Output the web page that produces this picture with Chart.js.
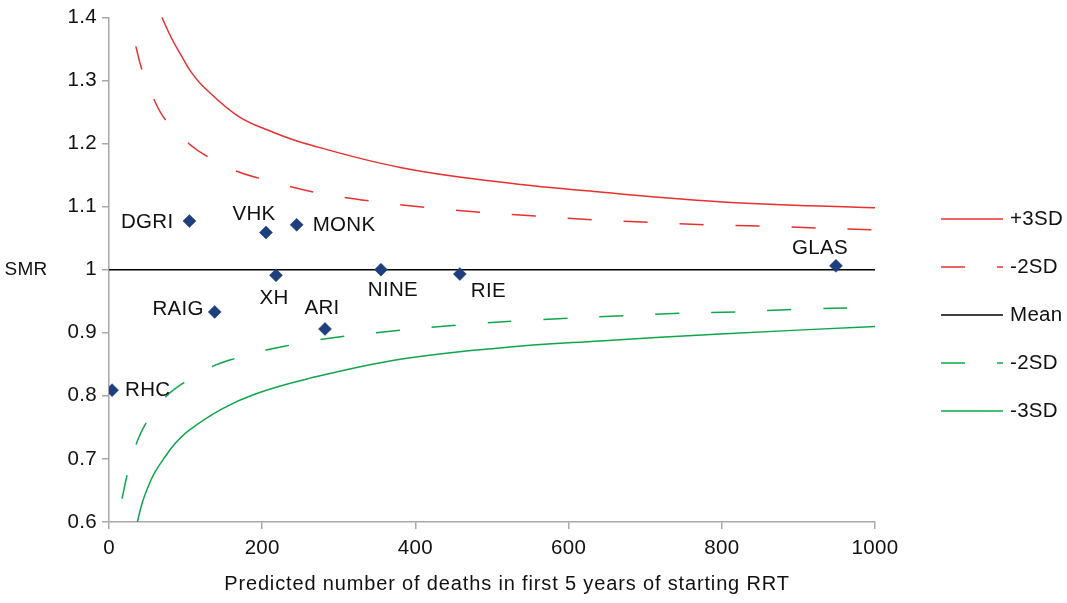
<!DOCTYPE html>
<html>
<head>
<meta charset="utf-8">
<script src="https://cdn.jsdelivr.net/npm/chart.js@4.4.1/dist/chart.umd.min.js"></script>
<style>
  html, body { margin: 0; padding: 0; background: #fff; }
  #smr-chart { display: block; }
</style>
</head>
<body>
<canvas id="smr-chart" width="1067" height="603"></canvas>
<script>
const xTicks = [0, 200, 400, 600, 800, 1000];
const yTicks = [0.6, 0.7, 0.8, 0.9, 1, 1.1, 1.2, 1.3, 1.4];

const centres = ["RHC", "DGRI", "RAIG", "VHK", "XH", "MONK", "ARI", "NINE", "RIE", "GLAS"];
const predictedDeaths = [4, 105, 138, 205, 218, 245, 282, 355, 458, 949];
const smrValues = [0.809, 1.077, 0.933, 1.059, 0.991, 1.071, 0.906, 1.0, 0.993, 1.006];

// control limits as [predicted deaths, SMR]
const upper3sd = [[69, 1.4], [82, 1.366], [95, 1.338], [108, 1.312], [125, 1.288], [169, 1.243],
  [212, 1.219], [256, 1.2], [380, 1.162], [510, 1.139], [641, 1.123], [806, 1.107], [1000, 1.098]];
const upper2sd = [[35, 1.354], [43, 1.317], [59, 1.269], [74, 1.237], [104, 1.2], [129, 1.179],
  [167, 1.156], [196, 1.145], [236, 1.132], [267, 1.123], [339, 1.109], [412, 1.099], [484, 1.091],
  [557, 1.085], [630, 1.079], [704, 1.075], [777, 1.071], [850, 1.069], [1000, 1.063]];
const meanLine = [[0, 1], [1000, 1]];
const lower2sd = [[17, 0.637], [24, 0.676], [35, 0.722], [49, 0.758], [73, 0.797], [98, 0.821],
  [134, 0.846], [164, 0.859], [204, 0.872], [235, 0.88], [275, 0.889], [349, 0.9], [453, 0.912],
  [567, 0.921], [671, 0.927], [744, 0.931], [818, 0.933], [891, 0.937], [1000, 0.94]];
const lower3sd = [[37, 0.6], [43, 0.629], [51, 0.656], [60, 0.679], [73, 0.703], [86, 0.724],
  [104, 0.745], [147, 0.779], [191, 0.803], [256, 0.826], [380, 0.858], [510, 0.876], [641, 0.887],
  [798, 0.898], [1000, 0.91]];

const seriesNames = ["+3SD", "-2SD", "Mean", "-2SD", "-3SD"];

// where each centre's name sits next to its marker: [align, dx, dy]
const labelPlacement = {
  RHC: ["left", 13, 0],
  DGRI: ["right", -16, 1],
  RAIG: ["right", -11, -3],
  VHK: ["center", -12, -18],
  XH: ["center", -2, 23],
  MONK: ["left", 16, 0],
  ARI: ["center", -3, -21],
  NINE: ["center", 12, 21],
  RIE: ["left", 11, 17],
  GLAS: ["center", -16, -18],
};

const FONT = '"Liberation Sans", Arial, Helvetica, sans-serif';
const RED = "#e8302e";
const GREEN = "#0ea64a";
const AXIS = "#a8a8a8";
const DASH = [24, 32];

function toPoints(pairs) {
  return pairs.map(([x, y]) => ({ x, y }));
}

function limitLine(label, pairs, color, dashed) {
  return {
    label,
    data: toPoints(pairs),
    showLine: true,
    borderColor: color,
    backgroundColor: color,
    borderWidth: 1.5,
    borderDash: dashed ? DASH : [],
    pointRadius: 0,
    pointHoverRadius: 0,
    tension: 0.4,
    fill: false,
  };
}

const pointLabelPlugin = {
  id: "point-labels",
  afterDatasetsDraw(chart) {
    const { ctx } = chart;
    const meta = chart.getDatasetMeta(0);
    ctx.save();
    ctx.font = `20.5px ${FONT}`;
    ctx.letterSpacing = "0.3px";
    ctx.fillStyle = "#111";
    ctx.textBaseline = "middle";
    meta.data.forEach((element, index) => {
      const [align, dx, dy] = labelPlacement[centres[index]];
      ctx.textAlign = align;
      ctx.fillText(centres[index], element.x + dx, element.y + dy);
    });
    ctx.restore();
  },
};

const sideTextPlugin = {
  id: "side-text",
  beforeDraw(chart) {
    chart.ctx.letterSpacing = "0.3px";
  },
  afterDraw(chart) {
    const { ctx } = chart;
    ctx.save();
    ctx.fillStyle = "#111";
    ctx.textBaseline = "middle";

    ctx.font = `19px ${FONT}`;
    ctx.letterSpacing = "0.3px";
    ctx.textAlign = "center";
    ctx.fillText("SMR", 26, chart.scales.y.getPixelForValue(1));

    ctx.font = `20px ${FONT}`;
    ctx.letterSpacing = "0.85px";
    ctx.fillText("Predicted number of deaths in first 5 years of starting RRT", 507, 584);

    // legend for the limit lines
    ctx.font = `20.5px ${FONT}`;
    ctx.letterSpacing = "0.3px";
    ctx.textAlign = "left";
    chart.data.datasets.forEach((dataset, i) => {
      if (!dataset.showLine) return;
      const row = i - 1;
      const y = 219 + row * 48;
      ctx.beginPath();
      ctx.setLineDash(dataset.borderDash || []);
      ctx.strokeStyle = dataset.borderColor;
      ctx.lineWidth = 1.5;
      ctx.moveTo(941, y);
      ctx.lineTo(1003, y);
      ctx.stroke();
      ctx.setLineDash([]);
      ctx.fillText(dataset.label, 1010, y);
    });
    ctx.restore();
  },
};

const axisCommon = {
  grid: { drawOnChartArea: false, drawTicks: true, tickLength: 7, color: AXIS, lineWidth: 1.5 },
  border: { display: true, color: AXIS, width: 1.5 },
};

new Chart(document.getElementById("smr-chart"), {
  type: "scatter",
  data: {
    datasets: [
      {
        label: "SMR",
        data: predictedDeaths.map((x, i) => ({ x, y: smrValues[i] })),
        pointStyle: "rectRot",
        pointRadius: 6.5,
        pointHoverRadius: 6.5,
        borderWidth: 0.5,
        backgroundColor: "#1d3f7e",
        borderColor: "#1d3f7e",
        showLine: false,
      },
      limitLine(seriesNames[0], upper3sd, RED, false),
      limitLine(seriesNames[1], upper2sd, RED, true),
      limitLine(seriesNames[2], meanLine, "#000", false),
      limitLine(seriesNames[3], lower2sd, GREEN, true),
      limitLine(seriesNames[4], lower3sd, GREEN, false),
    ],
  },
  options: {
    responsive: false,
    animation: false,
    devicePixelRatio: 1,
    layout: { padding: { top: 14, right: 192, left: 0, bottom: 0 } },
    plugins: {
      legend: { display: false },
      tooltip: { enabled: false },
    },
    scales: {
      x: {
        ...axisCommon,
        type: "linear",
        min: 0,
        max: 1000,
        afterBuildTicks(scale) {
          scale.ticks = xTicks.map((value) => ({ value }));
        },
        afterFit(scale) {
          scale.height = 81;
        },
        ticks: {
          color: "#111",
          font: { family: FONT, size: 20.5 },
          padding: 7,
          maxRotation: 0,
          autoSkip: false,
          callback: (value) => String(value),
        },
      },
      y: {
        ...axisCommon,
        type: "linear",
        min: 0.6,
        max: 1.4,
        afterBuildTicks(scale) {
          scale.ticks = yTicks.map((value) => ({ value }));
        },
        afterFit(scale) {
          scale.width = 109;
        },
        ticks: {
          color: "#111",
          font: { family: FONT, size: 20.5 },
          padding: 5,
          autoSkip: false,
          callback: (value) => String(value),
        },
      },
    },
  },
  plugins: [pointLabelPlugin, sideTextPlugin],
});
</script>
</body>
</html>
